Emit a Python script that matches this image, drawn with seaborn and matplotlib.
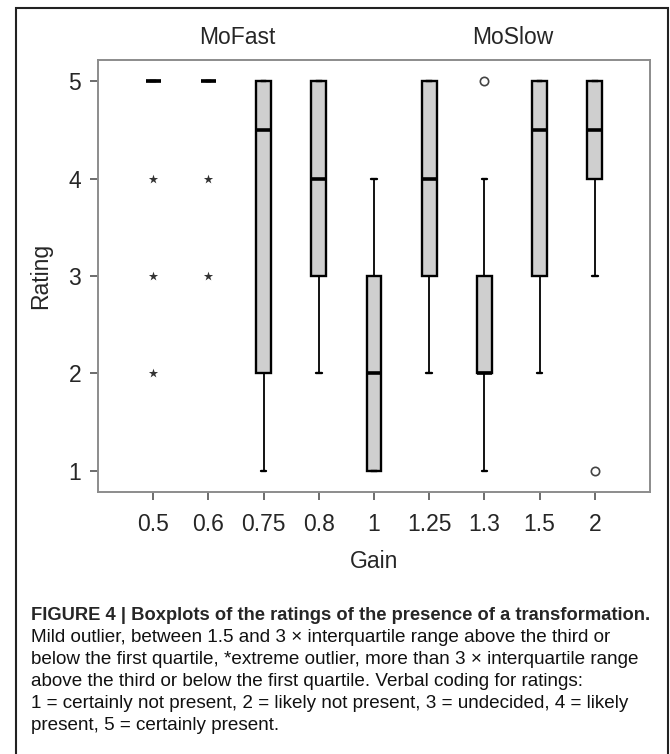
import numpy as np
import pandas as pd
import matplotlib
matplotlib.use('Agg')
import matplotlib.pyplot as plt
from matplotlib.patches import Rectangle
import seaborn as sns

# 每个 gain 的五数概括（下须、Q1、中位数、Q3、上须）
gains = ['0.5', '0.6', '0.75', '0.8', '1', '1.25', '1.3', '1.5', '2']
whisker_lo = [5, 5, 1, 2, 1, 2, 1, 2, 3]
q1 = [5, 5, 2, 3, 1, 3, 2, 3, 4]
median = [5, 5, 4.5, 4, 2, 4, 2, 4.5, 4.5]
q3 = [5, 5, 5, 5, 3, 5, 3, 5, 5]
whisker_hi = [5, 5, 5, 5, 4, 5, 4, 5, 5]

# 离群点：* 极端，o 温和
extreme_gain = ['0.5', '0.5', '0.5', '0.6', '0.6']
extreme_rating = [4, 3, 2, 4, 3]
mild_gain = ['1.3', '2']
mild_rating = [5, 1]

caption_title = 'FIGURE 4 | Boxplots of the ratings of the presence of a transformation.'
caption_lines = [
    'Mild outlier, between 1.5 and 3 \u00d7 interquartile range above the third or',
    'below the first quartile, *extreme outlier, more than 3 \u00d7 interquartile range',
    'above the third or below the first quartile. Verbal coding for ratings:',
    '1 = certainly not present, 2 = likely not present, 3 = undecided, 4 = likely',
    'present, 5 = certainly present.',
]

sns.set_style('white')
plt.rcParams['font.family'] = ['Liberation Sans', 'DejaVu Sans']

# 五个值正好让 numpy 的分位数等于 Q1/中位数/Q3
rows = []
for i, g in enumerate(gains):
    for v in (whisker_lo[i], q1[i], median[i], q3[i], whisker_hi[i]):
        rows.append({'Gain': g, 'Rating': v})
df = pd.DataFrame(rows)

W, H = 670, 754
fig = plt.figure(figsize=(W / 100, H / 100), dpi=100)
ax = fig.add_axes([98 / W, 1 - 492 / H, (650 - 98) / W, (492 - 60) / H])

sns.boxplot(data=df, x='Gain', y='Rating', order=gains, ax=ax,
            color='#cfcfcf', linecolor='black', linewidth=1.7, width=0.27,
            showfliers=False, capwidths=0.1,
            medianprops={'linewidth': 2.6, 'color': 'black'},
            whiskerprops={'linewidth': 1.3})

sns.stripplot(x=extreme_gain, y=extreme_rating, order=gains, jitter=False,
              marker='*', color='#333333', size=7, ax=ax)
sns.stripplot(x=mild_gain, y=mild_rating, order=gains, jitter=False,
              marker='o', color='white', edgecolor='#444444', linewidth=1.2,
              size=6, ax=ax)

ax.set_xlim(-1, 9)
ax.set_ylim(0.78, 5.22)
ax.set_yticks([1, 2, 3, 4, 5])
ax.set_xlabel('Gain', fontsize=16.5, labelpad=10)
ax.set_ylabel('Rating', fontsize=16.5, labelpad=12)
ax.tick_params(axis='both', labelsize=16.5, length=6, width=1.1,
               color='#444444', direction='out', bottom=True, left=True)
ax.tick_params(axis='x', pad=9)
ax.tick_params(axis='y', pad=6)
for s in ax.spines.values():
    s.set_visible(True)
    s.set_color('#8c8c8c')
    s.set_linewidth(1.4)

fig.text(237 / W, 1 - 38 / H, 'MoFast', ha='center', va='center', fontsize=16.5)
fig.text(513 / W, 1 - 38 / H, 'MoSlow', ha='center', va='center', fontsize=16.5)

# 外框
fig.add_artist(Rectangle((16 / W, -0.02), (668 - 16) / W, 1 - 8 / H + 0.02,
                         transform=fig.transFigure, fill=False,
                         edgecolor='#222222', linewidth=1.5, clip_on=False))

fig.text(31 / W, 1 - 615 / H, caption_title, ha='left', va='center',
         fontsize=13.2, fontweight='bold')
for k, line in enumerate(caption_lines):
    fig.text(31 / W, 1 - (638 + 22 * k) / H, line, ha='left', va='center',
             fontsize=13.6, color='#111111')

fig.savefig('out.png', dpi=100)
